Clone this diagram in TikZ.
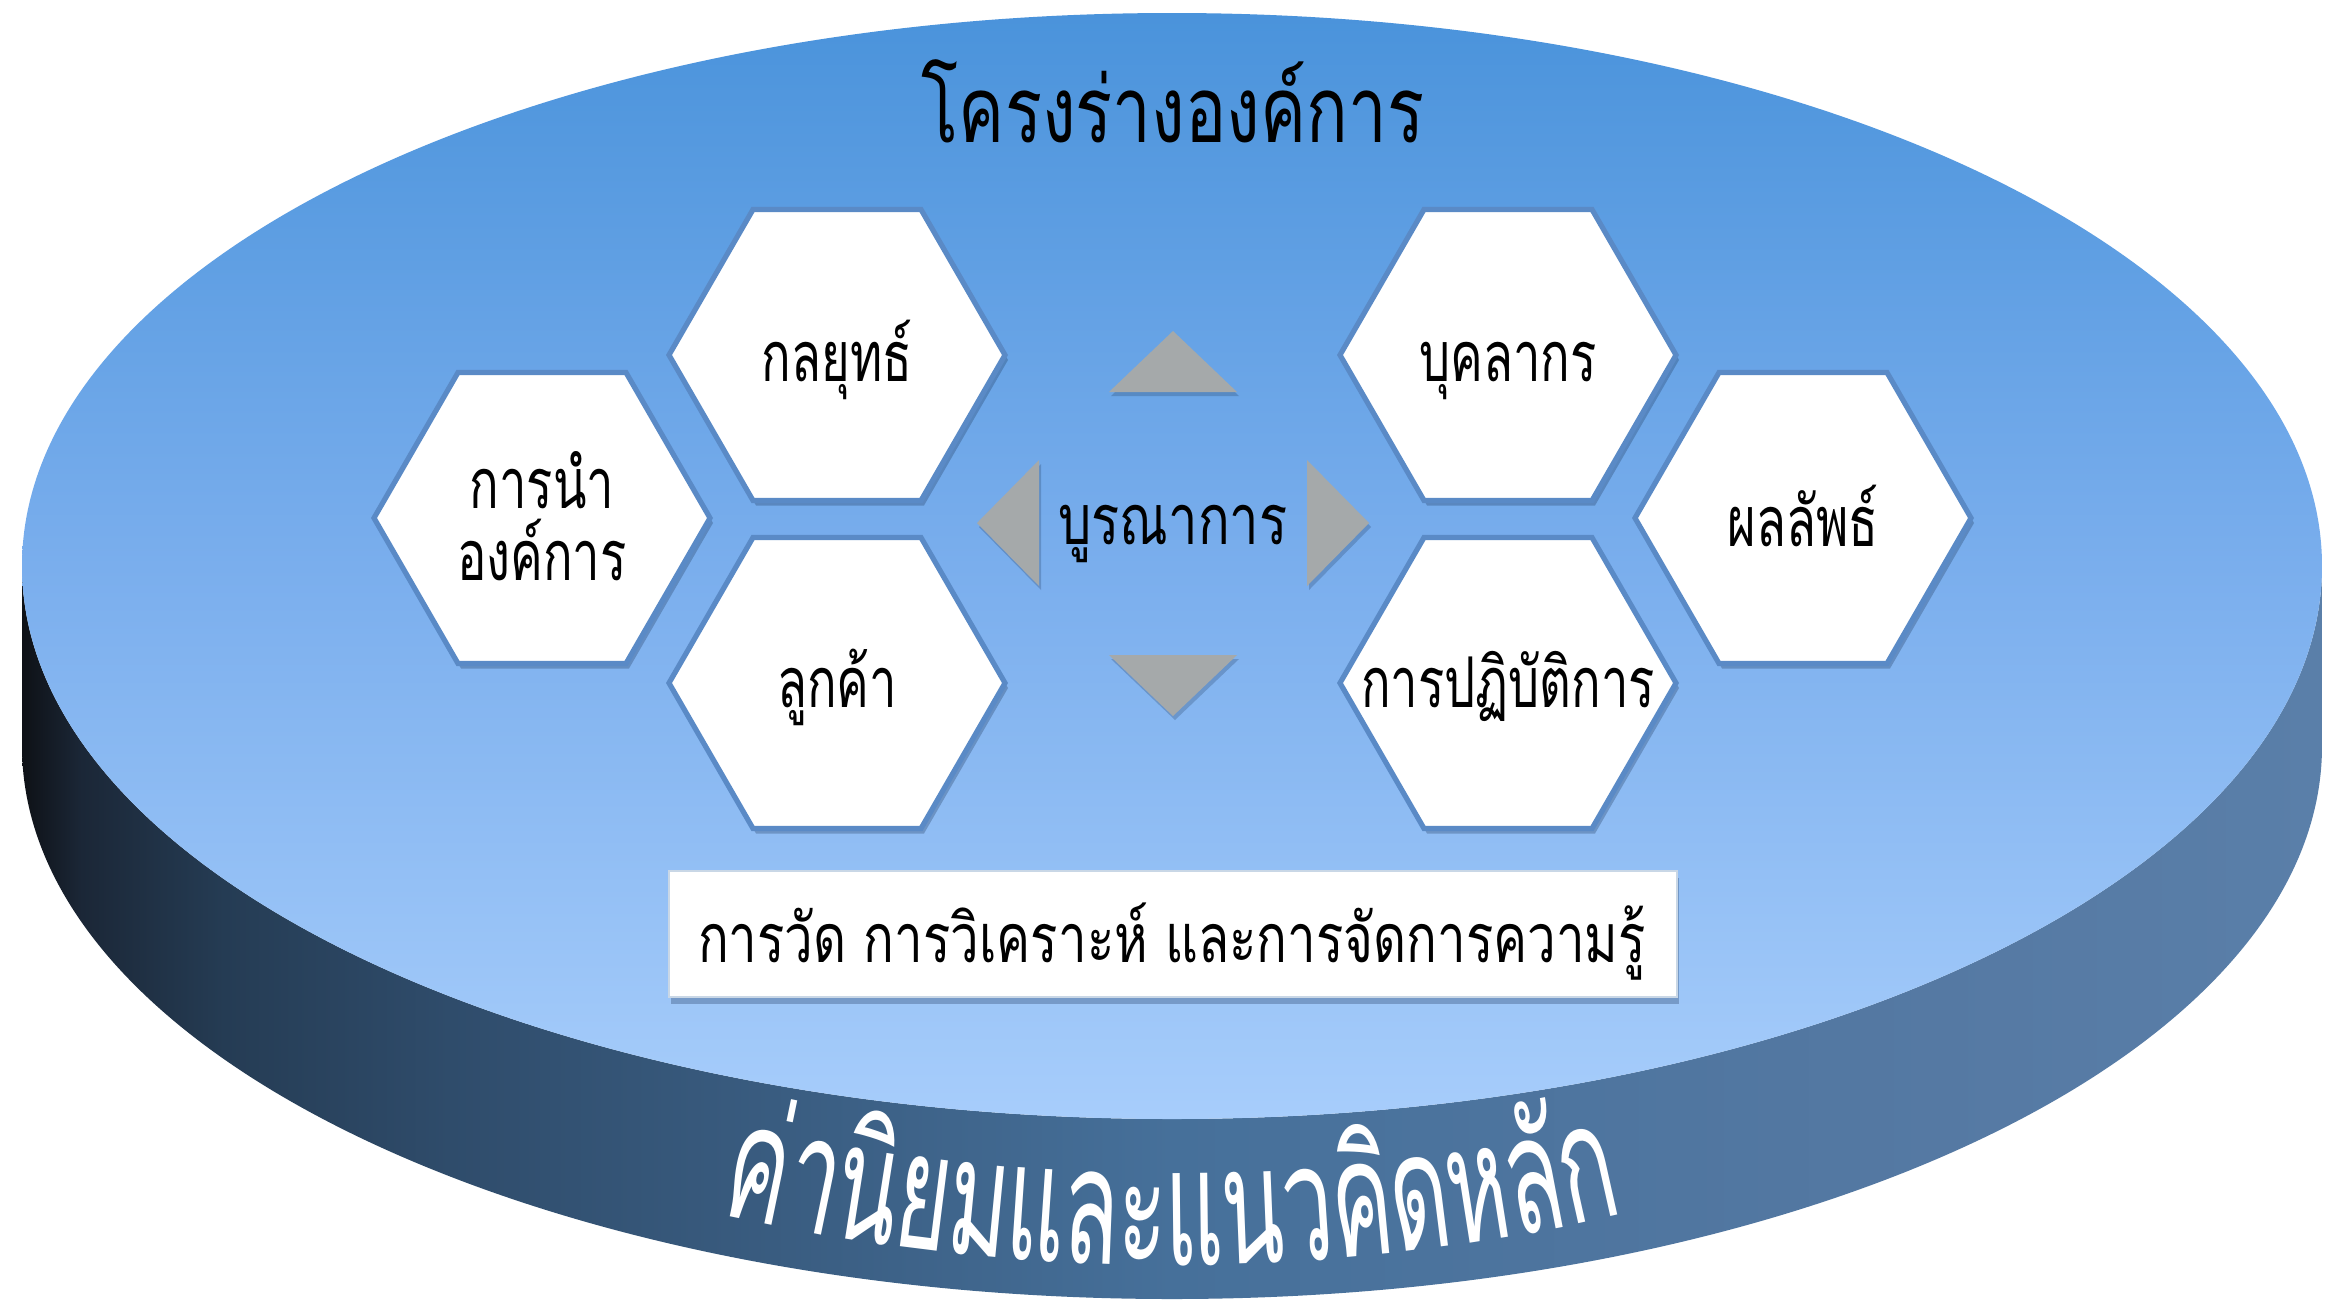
\documentclass[tikz,border=0pt]{standalone}
\usepackage{fontspec}
\newfontfamily\thaifont[Script=Thai,FakeStretch=0.75]{Loma}
\newfontfamily\thaihex[Script=Thai,FakeStretch=0.7]{Loma}
\newfontfamily\thaiarc[Script=Thai,FakeStretch=0.56]{Loma}
\usetikzlibrary{shapes.geometric}
\definecolor{hexborder}{RGB}{90,138,198}
\definecolor{trigray}{RGB}{165,169,170}
\definecolor{rectborder}{RGB}{201,215,230}
\definecolor{shadowc}{RGB}{30,55,90}
\definecolor{topA}{RGB}{74,147,219}
\definecolor{topB}{RGB}{122,174,237}
\definecolor{topC}{RGB}{167,205,251}
\definecolor{sideA}{RGB}{14,17,22}
\definecolor{sideB}{RGB}{27,39,55}
\definecolor{sideC}{RGB}{37,60,84}
\definecolor{sideD}{RGB}{47,76,107}
\definecolor{sideE}{RGB}{70,112,154}
\definecolor{sideF}{RGB}{85,121,163}
\definecolor{sideG}{RGB}{90,127,169}
\pgfdeclareverticalshading{topshade}{100bp}{color(0bp)=(topC); color(25bp)=(topC); color(50bp)=(topB); color(75bp)=(topA); color(100bp)=(topA)}
\pgfdeclarehorizontalshading{sideshade}{100bp}{color(0bp)=(sideA); color(25bp)=(sideA); color(26.3bp)=(sideB); color(29.4bp)=(sideC); color(34.3bp)=(sideD); color(50bp)=(sideE); color(66.6bp)=(sideF); color(75bp)=(sideG); color(100bp)=(sideG)}
\newlength\clw
\newcommand\arcfnt{\thaiarc\fontsize{\arcfs}{\arcfs}\selectfont}
\begin{document}
\settowidth\clw{\thaiarc\fontsize{10}{10}\selectfont ค่านิยมและแนวคิดหลัก}%
\ifdim\clw<1pt \gdef\arcfs{80}\else\pgfmathsetmacro\arcfs{10*460/\clw}\xdef\arcfs{\arcfs}\fi
\settowidth\clw{\arcfnt ค่านิยมและแนวคิดหลัก}%
\pgfmathsetmacro\arctot{2*\clw}\xdef\arctot{\arctot}%
\foreach \c [count=\i] in {ค่า,นิ,ย,ม,แ,ล,ะ,แ,น,ว,คิ,ด,ห,ลั,ก} {%
  \settowidth\clw{\arcfnt\c}%
  \pgfmathsetmacro\arcw{2*\clw}%
  \expandafter\xdef\csname arcw\i\endcsname{\arcw}%
}%
\begin{tikzpicture}[x=0.5pt,y=-0.5pt,
  hexa/.style={regular polygon, regular polygon sides=6, minimum size=168pt, inner sep=0pt,
    draw=hexborder, line width=2.6pt, fill=white,
    preaction={fill=shadowc, fill opacity=0.3, draw=none, transform canvas={xshift=1.5pt, yshift=-2.5pt}}},
  hextxt/.style={anchor=base, inner sep=0pt, font=\thaihex\fontsize{35}{40}\selectfont},
  titletxt/.style={anchor=base, inner sep=0pt, font=\thaifont\fontsize{46}{54}\selectfont},
  midtxt/.style={anchor=base, inner sep=0pt, font=\thaifont\fontsize{35}{40}\selectfont},
  kmbox/.style={rectangle, minimum width=504pt, minimum height=63pt, inner sep=0pt,
    fill=white, draw=rectborder, line width=1pt,
    preaction={fill=shadowc, fill opacity=0.3, draw=none, transform canvas={xshift=1pt, yshift=-3.5pt}}},
  kmtxt/.style={anchor=base, inner sep=0pt, font=\thaifont\fontsize{34}{40}\selectfont},
  arrowtri/.style={fill=trigray, preaction={fill=shadowc, fill opacity=0.25, transform canvas={xshift=1pt, yshift=-2pt}}},
  arctxt/.style={anchor=base, inner sep=0pt, text=white}
]
\fill[white] (0,0) rectangle (2345,1308);
\useasboundingbox (0,0) rectangle (2345,1308);

% cylinder side
\shade[shading=sideshade] (22,566) -- (22,746)
  arc[start angle=180, end angle=0, x radius=1150, y radius=553]
  -- (2322,566)
  arc[start angle=0, end angle=180, x radius=1150, y radius=553] -- cycle;
% cylinder top
\shade[shading=topshade] (1172,566) ellipse[x radius=1150, y radius=553];

% title
\node[titletxt] (title) at (1173,142) {โครงร่างองค์การ};

% hexagons
\node[hexa] (lead) at (542,518) {};
\node[hexa] (strat) at (837,355) {};
\node[hexa] (cust) at (837,683) {};
\node[hexa] (work) at (1508,355) {};
\node[hexa] (ops) at (1508,683) {};
\node[hexa] (res) at (1803,518) {};

\node[hextxt] (lead-a) at (542,508) {การนำ};
\node[hextxt] (lead-b) at (542,580) {องค์การ};
\node[hextxt] (strat-t) at (837,381) {กลยุทธ์};
\node[hextxt] (cust-t) at (837,707) {ลูกค้า};
\node[hextxt] (work-t) at (1508,381) {บุคลากร};
\node[hextxt] (ops-t) at (1508,707) {การปฏิบัติการ};
\node[hextxt] (res-t) at (1803,546) {ผลลัพธ์};

% integration arrows
\fill[arrowtri] (1109,392) -- (1173,331) -- (1237,392) -- cycle;
\fill[arrowtri] (1109,655) -- (1173,716) -- (1237,655) -- cycle;
\fill[arrowtri] (1039,460) -- (977,523) -- (1039,586) -- cycle;
\fill[arrowtri] (1307,460) -- (1369,523) -- (1307,586) -- cycle;
\node[midtxt] (integ) at (1173,544) {บูรณาการ};

% measurement box
\node[kmbox] (km) at (1172.5,933.5) {};
\node[kmtxt] (km-t) at (1172,962) {การวัด การวิเคราะห์ และการจัดการความรู้};

% curved text on the side
\xdef\arccum{0}
\foreach \c [count=\i] in {ค่า,นิ,ย,ม,แ,ล,ะ,แ,น,ว,คิ,ด,ห,ลั,ก} {
  \pgfmathsetmacro\arcw{\csname arcw\i\endcsname}
  \pgfmathsetmacro\arcs{\arccum+\arcw/2-\arctot/2}
  \pgfmathsetmacro\arcu{0.985*\arcs}
  \pgfmathsetmacro\arcq{sqrt(1-(\arcu/1040)^2)}
  \pgfmathsetmacro\arcy{746+519*\arcq}
  \pgfmathsetmacro\arcang{atan((519/1040)*(\arcu/1040)/\arcq)}
  \node[arctxt, rotate=\arcang] (core-\i) at (1172+\arcu,\arcy) {\arcfnt\c};
  \pgfmathsetmacro\arcnc{\arccum+\arcw}
  \xdef\arccum{\arcnc}
}
\end{tikzpicture}
\end{document}
